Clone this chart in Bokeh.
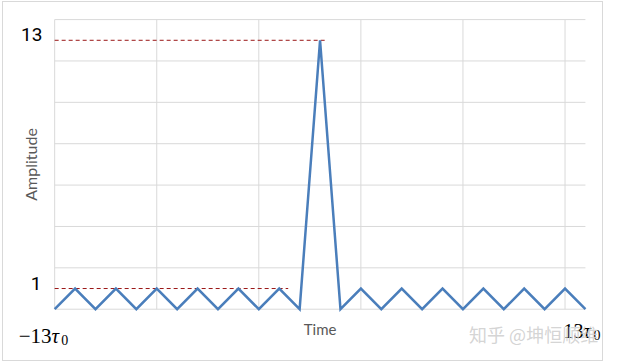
from bokeh.plotting import figure
from bokeh.models import Range1d, Label
from bokeh.embed import file_html
from bokeh.resources import INLINE
import math

# ---- data ----
lags = list(range(-13, 14))
amplitude = [0, 1, 0, 1, 0, 1, 0, 1, 0, 1, 0, 1, 0, 13,
             0, 1, 0, 1, 0, 1, 0, 1, 0, 1, 0, 1, 0]
ref_levels = [13, 1]
ref_ends = [0.27, -1.56]
x_grid = [-13, -8, -3, 2, 7, 12]
y_grid = [0, 2, 4, 6, 8, 10, 12, 14]
x_lo, x_hi = -13, 13
y_lo, y_hi = 0, 14

# layout (pixels) of the plotting area inside the 599x358 canvas
W, H = 599, 358
pad_l, pad_r, pad_t, pad_b = 51, 19, 17, 53
sx = (W - pad_l - pad_r) / (x_hi - x_lo)
sy = (H - pad_t - pad_b) / (y_hi - y_lo)

p = figure(width=W + 2, height=H + 2, output_backend="svg", toolbar_location=None,
           x_axis_location=None, y_axis_location=None,
           x_range=Range1d(x_lo - pad_l / sx, x_hi + pad_r / sx),
           y_range=Range1d(y_lo - pad_b / sy, y_hi + pad_t / sy),
           min_border=0)
p.grid.visible = False
p.outline_line_color = None
p.background_fill_color = "white"
p.border_fill_color = "white"
p.styles = {"border": "1px solid #d9d9d9", "margin-left": "2px", "margin-top": "1px"}

# gridlines over the plotting area
p.segment(x0=x_grid, x1=x_grid, y0=[y_lo] * len(x_grid), y1=[y_hi] * len(x_grid),
          line_color="#d9d9d9", line_width=1)
p.segment(x0=[x_lo] * len(y_grid), x1=[x_hi] * len(y_grid), y0=y_grid, y1=y_grid,
          line_color="#d9d9d9", line_width=1)

for lvl, end in zip(ref_levels, ref_ends):
    p.line(x=[x_lo, end], y=[lvl, lvl], line_color="#9a1616", line_width=1,
           line_dash="4 3")

p.line(x=lags, y=amplitude, line_color="#4a7ebb", line_width=2.5, line_join="miter")


def lab(x, y, t, size, font="Roboto", color="black", align="left",
        baseline="middle", style="normal", angle=0):
    p.add_layout(Label(x=x, y=y, text=t, text_font=font, text_font_size=size,
                       text_color=color, text_align=align, text_baseline=baseline,
                       text_font_style=style, angle=angle))

# y tick labels
lab(-13.6, 13.3, "13", "19px", align="right")
lab(-13.65, 1.22, "1", "19px", align="right")

# x end labels
serif = "Liberation Serif"
lab(-13.15, -1.28, "\u221213", "21px", font=serif, align="right")
lab(-13.15, -1.28, "\u03c4", "21px", font=serif, style="italic")
lab(-12.68, -1.5, "0", "14px", font=serif)
lab(12.9, -1.07, "13", "20px", font=serif, align="right")
lab(12.9, -1.07, "\u03c4", "20px", font=serif, style="italic")
lab(13.39, -1.26, "0", "14px", font=serif)

# axis titles
lab(0, -0.97, "Time", "15px", font="Lato", color="#595959", align="center")
lab(-14.2, 7, "Amplitude", "16px", font="Lato", color="#595959", align="center",
    angle=math.pi / 2)

# watermark
p.add_layout(Label(x=7.3, y=-1.2, text="知乎 @坤恒顺维", text_font="Noto Sans CJK SC",
                   text_font_size="18px", text_color="#cfcfcf", text_alpha=0.9,
                   text_baseline="middle"))

open("out.html", "w").write(file_html(p, INLINE))
